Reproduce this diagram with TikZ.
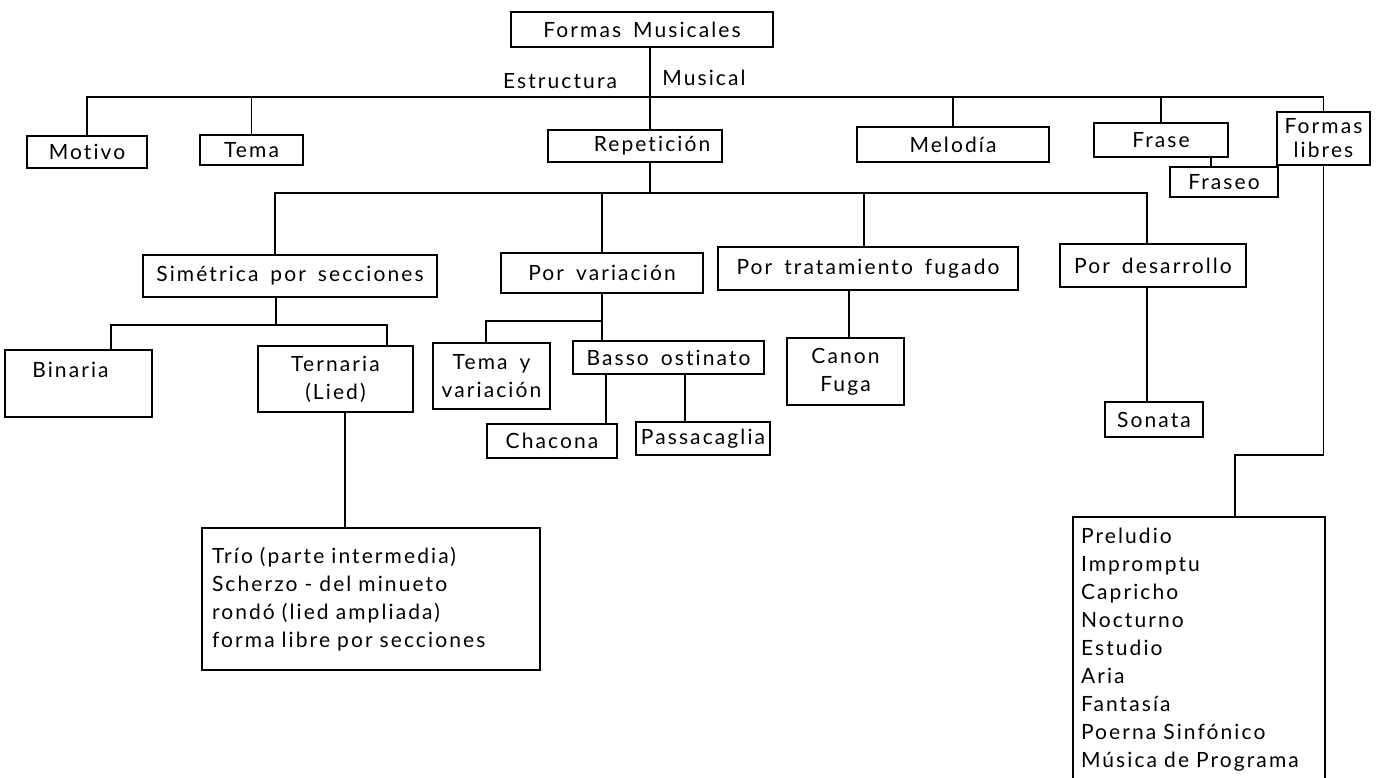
\documentclass[tikz,border=0pt]{standalone}
\usepackage{fontspec}
\setmainfont[LetterSpace=10, WordSpace=1.6, Ligatures={NoCommon}]{Lato}
\usetikzlibrary{calc}
\begin{document}
\begin{tikzpicture}[x=1pt,y=-1pt,
  box/.style={draw, line width=1.3pt, inner sep=0pt, align=center, font=\fontsize{21}{28}\selectfont},
  lbl/.style={inner sep=0pt, font=\fontsize{21}{28}\selectfont},
  conn/.style={line width=1.3pt}]
\useasboundingbox[fill=white] (0,0) rectangle (1390,778);

% level 0
\node[box, minimum width=262pt, minimum height=35pt] (fm) at (642,29.5) {Formas Musicales};
\node[lbl] (est) at (560,81) {Estructura};
\node[lbl] (mus) at (704,78) {Musical};

% level 1
\node[box, minimum width=120pt, minimum height=32pt] (mot) at (87,152) {Motivo};
\node[box, minimum width=103pt, minimum height=30pt] (tema) at (251.5,150) {Tema};
\node[box, minimum width=174pt, minimum height=32pt] (rep) at (635,146) {\hspace*{34pt}Repetición};
\node[box, minimum width=192pt, minimum height=35pt] (mel) at (953,144.5) {Melodía};
\node[box, minimum width=134pt, minimum height=34pt] (fra) at (1161,140) {Frase};
\node[box, minimum width=108pt, minimum height=30pt] (frs) at (1224,182) {Fraseo};
\node[box, minimum width=93pt, minimum height=53pt, font=\fontsize{21}{24}\selectfont] (flib) at (1323.5,138.5) {Formas\\libres};

% level 2
\node[box, minimum width=294pt, minimum height=42pt] (sim) at (290,276) {Simétrica por secciones};
\node[box, minimum width=202pt, minimum height=40pt] (var) at (602,273) {Por variación};
\node[box, minimum width=300pt, minimum height=43pt] (trat) at (868,268.5) {Por tratamiento fugado};
\node[box, minimum width=186pt, minimum height=43pt] (des) at (1153,265.5) {Por desarrollo};

% level 3
\node[box, minimum width=147pt, minimum height=67pt] (bin) at (78.5,383.5) {Binaria\hspace*{16pt}\\ \mbox{}};
\node[box, minimum width=155pt, minimum height=66pt] (ter) at (335.5,379) {Ternaria\\(Lied)};
\node[box, minimum width=117pt, minimum height=66pt] (tyv) at (491.5,376) {Tema y\\variación};
\node[box, minimum width=191pt, minimum height=33pt] (bas) at (668.5,357.5) {Basso ostinato};
\node[box, minimum width=130pt, minimum height=34pt] (cha) at (552,441) {Chacona};
\node[box, minimum width=134pt, minimum height=33pt] (pas) at (703,438.5) {Passacaglia};
\node[box, minimum width=117pt, minimum height=67pt] (can) at (845.5,371.5) {Canon\\Fuga};
\node[box, minimum width=98pt, minimum height=35pt] (son) at (1154,419.5) {Sonata};

% lists
\node[box, align=left, inner xsep=10pt, text width=318pt, minimum height=142pt] (trio) at (371,599)
  {Trío (parte intermedia)\\Scherzo - del minueto\\rondó (lied ampliada)\\forma libre por secciones};
\node[box, align=left, inner xsep=8pt, text width=236pt, minimum height=266pt] (big) at (1199,650)
  {Preludio\\Impromptu\\Capricho\\Nocturno\\Estudio\\Aria\\Fantasía\\Poerna Sinfónico\\Música de Programa};

% connectors
\coordinate (b1) at (650,97);
\coordinate (b2) at (650,193);
\coordinate (b3) at (276,325);
\coordinate (b4) at (602,321);
\coordinate (j1) at (1235,455);

\draw[conn] (mot.north) |- (b1) -| (flib.north);
\draw[conn] (tema.north) -- (tema.north |- b1);
\draw[conn] (mel.north) -- (mel.north |- b1);
\draw[conn] (fra.north) -- (fra.north |- b1);
\draw[conn] (fm.south -| b1) -- (rep.north -| b1);
\draw[conn] ([xshift=50pt]fra.south) -- ([xshift=50pt]fra.south |- frs.north);
\draw[conn] (flib.south) |- (j1) -- (j1 |- big.north);

\draw[conn] (rep.south -| b2) -- (b2);
\draw[conn] ([xshift=-15pt]sim.north) |- (b2) -| ([xshift=-6pt]des.north);
\draw[conn] (var.north) -- (var.north |- b2);
\draw[conn] ([xshift=-4pt]trat.north) -- ([xshift=-4pt]trat.north |- b2);

\draw[conn] ([xshift=-14pt]sim.south) -- (b3);
\draw[conn] ([xshift=32.5pt]bin.north) |- (b3) -| ([xshift=51.5pt]ter.north);
\draw[conn] ([xshift=9.5pt]ter.south) -- ([xshift=9.5pt]ter.south |- trio.north);

\draw[conn] (var.south) -- (var.south |- bas.north);
\draw[conn] ([xshift=-5.5pt]tyv.north) |- (b4);
\draw[conn] ([xshift=-62.5pt]bas.south) -- ([xshift=-62.5pt]bas.south |- cha.north);
\draw[conn] ([xshift=16.5pt]bas.south) -- ([xshift=16.5pt]bas.south |- pas.north);
\draw[conn] ([xshift=-19pt]trat.south) -- ([xshift=-19pt]trat.south |- can.north);
\draw[conn] ([xshift=-6pt]des.south) -- ([xshift=-6pt]des.south |- son.north);
\end{tikzpicture}
\end{document}
